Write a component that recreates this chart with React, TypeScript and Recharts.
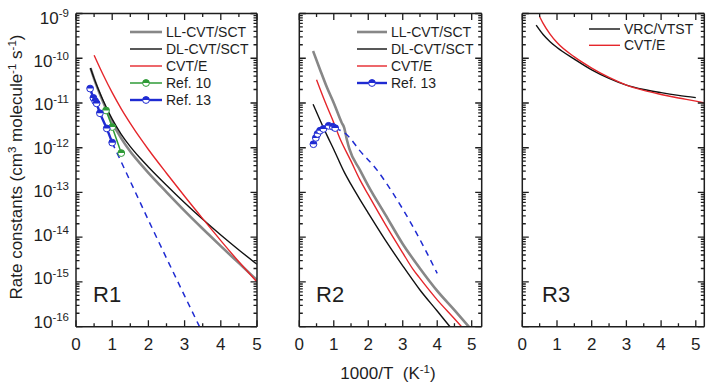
import React from 'react';
import { LineChart, Line, XAxis, YAxis, Legend } from 'recharts';

type Pt = { x: number; y: number };

const FONT = '"Liberation Sans", Arial, Helvetica, sans-serif';
const INK = '#1e1e1e';
const GRAY = '#878787';
const BLACK = '#111111';
const RED = '#e5262b';
const GREEN = '#2f9b37';
const BLUE = '#1f2bd2';

// x = 1000/T (K^-1), k in cm3 molecule-1 s-1

// R1
const r1LLx = [0.4, 0.5, 0.6, 0.75, 1.0, 1.25, 1.5, 1.77, 2.0, 2.5, 3.0, 3.5, 4.0, 4.5, 5.0];
const r1LLk = [6.03e-11, 3.47e-11, 2.09e-11, 1.05e-11, 3.72e-12, 1.62e-12, 8.22e-13, 4.47e-13, 2.75e-13, 1.02e-13, 3.89e-14, 1.55e-14, 6.31e-15, 2.63e-15, 1.1e-15];
const r1DLx = [0.4, 0.5, 0.6, 0.75, 1.0, 1.25, 1.5, 1.77, 2.0, 2.5, 3.0, 3.5, 4.0, 4.5, 5.0];
const r1DLk = [6.03e-11, 3.55e-11, 2.19e-11, 1.14e-11, 4.37e-12, 2.0e-12, 1.06e-12, 5.89e-13, 3.72e-13, 1.45e-13, 5.89e-14, 2.51e-14, 1.12e-14, 5.19e-15, 2.48e-15];
const r1CVTx = [0.5, 0.75, 1.0, 1.25, 1.5, 1.8, 2.0, 2.5, 3.0, 3.5, 4.0, 4.5, 5.0];
const r1CVTk = [1.17e-10, 4.27e-11, 1.7e-11, 7.41e-12, 3.51e-12, 1.53e-12, 9.12e-13, 2.69e-13, 8.22e-14, 2.6e-14, 8.41e-15, 2.82e-15, 1.0e-15];
const r1Ref10x = [0.83, 1.0, 1.25];
const r1Ref10k = [6.8e-12, 2.9e-12, 7.6e-13];
const r1Ref13x = [0.39, 0.48, 0.53, 0.57, 0.66, 0.85, 1.0];
const r1Ref13k = [2.1e-11, 1.3e-11, 1.1e-11, 9.8e-12, 5.9e-12, 2.7e-12, 1.3e-12];
const r1FitX = [1.0, 1.5, 2.0, 2.5, 3.0, 3.5];
const r1FitK = [1.3e-12, 1.78e-13, 2.4e-14, 3.4e-15, 4.9e-16, 7.1e-17];

// R2
const r2LLx = [0.4, 0.6, 0.8, 1.0, 1.23, 1.3, 1.38, 1.45, 1.76, 2.0, 2.5, 3.0, 3.5, 4.0, 4.5, 4.94];
const r2LLk = [1.45e-10, 5.62e-11, 2.24e-11, 1.0e-11, 3.63e-12, 2.82e-12, 1.51e-12, 9.55e-13, 3.16e-13, 1.41e-13, 3.16e-14, 7.08e-15, 2.0e-15, 6.31e-16, 2.34e-16, 9.55e-17];
const r2DLx = [0.4, 0.6, 0.8, 1.0, 1.3, 1.5, 1.76, 2.0, 2.5, 3.0, 3.5, 4.0, 4.36, 4.5];
const r2DLk = [9.33e-12, 4.17e-12, 1.91e-12, 9.12e-13, 2.88e-13, 1.51e-13, 6.92e-14, 3.47e-14, 8.51e-15, 2.29e-15, 6.61e-16, 2.24e-16, 1.02e-16, 7.6e-17];
const r2CVTx = [0.5, 0.75, 1.0, 1.16, 1.5, 1.76, 2.0, 2.5, 3.0, 3.3, 3.5, 4.0, 4.5, 4.8];
const r2CVTk = [3.31e-11, 1.05e-11, 3.63e-12, 1.74e-12, 5.01e-13, 1.91e-13, 8.91e-14, 1.91e-14, 4.47e-15, 1.91e-15, 1.2e-15, 3.98e-16, 1.51e-16, 8.3e-17];
const r2Ref13x = [0.41, 0.48, 0.53, 0.6, 0.7, 0.85, 0.97, 1.04];
const r2Ref13k = [1.2e-12, 1.66e-12, 2.04e-12, 2.4e-12, 2.63e-12, 3.09e-12, 2.95e-12, 2.75e-12];
const r2FitX = [1.04, 1.38, 1.76, 2.25, 2.72, 3.3, 4.0];
const r2FitK = [2.75e-12, 1.95e-12, 8.5e-13, 3.2e-13, 9.5e-14, 1.7e-14, 1.55e-15];

// R3
const r3VRCx = [0.4, 0.6, 0.8, 1.0, 1.5, 2.0, 2.5, 3.0, 3.5, 4.0, 4.5, 5.0];
const r3VRCk = [5.5e-10, 3.39e-10, 2.34e-10, 1.74e-10, 9.55e-11, 5.5e-11, 3.55e-11, 2.51e-11, 2.0e-11, 1.7e-11, 1.48e-11, 1.32e-11];
const r3CVTx = [0.5, 0.6, 0.8, 1.0, 1.5, 2.0, 2.5, 3.0, 3.5, 4.0, 4.5, 5.0, 5.25];
const r3CVTk = [8.51e-10, 6.03e-10, 3.47e-10, 2.24e-10, 1.07e-10, 6.03e-11, 3.72e-11, 2.51e-11, 1.91e-11, 1.55e-11, 1.29e-11, 1.1e-11, 1.0e-11];

// axis ticks
const xTicks = [0, 0.5, 1, 1.5, 2, 2.5, 3, 3.5, 4, 4.5, 5];
const exponents = [-16, -15, -14, -13, -12, -11, -10];
const mantissas = [1, 2, 3, 4, 5, 6, 7, 8, 9];
const yTicks = [...exponents.flatMap((e) => mantissas.map((m) => m * Math.pow(10, e))), 1e-9];
const Y_MIN = 1e-16;
const Y_MAX = 1e-9;

const TOP = 13.5;
const BOTTOM = 326.7;
const W = 709;
const H = 386;
const AX = 0.01; // axis band thickness (must be > 0 for the axis to draw)
const MAJ = 6.5;
const MIN = 3.5;

// frame of each panel: plot-area edges in px and the x-axis upper limit
const frames = [
  { left: 76, right: 257, xMax: 5 },
  { left: 299.3, right: 481.7, xMax: 5.29 },
  { left: 522.3, right: 704.3, xMax: 5.245 },
];

const zip = (xs: number[], ks: number[]): Pt[] => xs.map((x, i) => ({ x, y: ks[i] }));

const isDecade = (v: number) => {
  const l = Math.log10(v);
  return Math.abs(l - Math.round(l)) < 1e-6;
};

const halfDot = (color: string) => (p: any) => {
  const { cx, cy } = p;
  if (cx == null || cy == null) return <g key={`n${p.index}`} />;
  return (
    <g key={`${cx}-${cy}`}>
      <circle cx={cx} cy={cy} r={3.4} fill="#ffffff" stroke={color} strokeWidth={1} />
      <path d={`M${cx - 3.4},${cy} A3.4,3.4 0 0 1 ${cx + 3.4},${cy} Z`} fill={color} />
    </g>
  );
};

const bottomLabel = (p: any) => {
  const v = p.payload.value;
  if (!Number.isInteger(v)) return <g />;
  return (
    <text x={p.x} y={Number(p.y) + 23} textAnchor="middle" fontSize={17} fontFamily={FONT} fill={INK}>
      {v}
    </text>
  );
};

const leftLabel = (p: any) => {
  const v = p.payload.value;
  if (!isDecade(v)) return <g />;
  const e = Math.round(Math.log10(v));
  const base = Number(p.y) + 10 - 1.3 * (-9 - e);
  return (
    <text x={Number(p.x) - 7} y={base} textAnchor="end" fontSize={17} fontFamily={FONT} fill={INK}>
      10
      <tspan dy={-7} fontSize={11.5}>{e}</tspan>
    </text>
  );
};

// inward tick marks on all four sides of every frame, one path per frame
const TickMarks = () => {
  const span = Math.log10(Y_MAX) - Math.log10(Y_MIN);
  const yPx = (v: number) => TOP + ((BOTTOM - TOP) * (Math.log10(Y_MAX) - Math.log10(v))) / span;
  return (
    <svg
      width={W}
      height={H}
      style={{ position: 'absolute', left: 0, top: 0, pointerEvents: 'none', overflow: 'visible' }}
    >
      {frames.map((f) => {
        const xPx = (v: number) => f.left + ((f.right - f.left) * v) / f.xMax;
        let d = '';
        xTicks.forEach((v) => {
          const len = Number.isInteger(v) ? MAJ : MIN;
          const x = xPx(v);
          d += `M${x},${BOTTOM}V${BOTTOM - len}M${x},${TOP}V${TOP + len}`;
        });
        yTicks.forEach((v) => {
          const len = isDecade(v) ? MAJ : MIN;
          const y = yPx(v);
          d += `M${f.left},${y}H${f.left + len}M${f.right},${y}H${f.right - len}`;
        });
        return <path key={f.left} d={d} stroke={INK} strokeWidth={1.3} fill="none" />;
      })}
    </svg>
  );
};

type LegendItem = { name: string; color: string; width: number; dot?: boolean };

const LegendBox = ({ items, step, lineW }: { items: LegendItem[]; step: number; lineW: number }) => (
  <svg width={150} height={items.length * step + 8} style={{ overflow: 'visible', display: 'block' }}>
    {items.map((it, i) => {
      const cy = 8 + i * step;
      return (
        <g key={it.name}>
          <line x1={0} x2={lineW} y1={cy} y2={cy} stroke={it.color} strokeWidth={it.width} />
          {it.dot && halfDot(it.color)({ cx: lineW / 2, cy, index: i })}
          <text x={lineW + 4} y={cy + 5} fontSize={14} fontFamily={FONT} fill={INK}>
            {it.name}
          </text>
        </g>
      );
    })}
  </svg>
);

const panelLabel = (name: string, x: number) => () => (
  <text x={x} y={302} fontSize={22} fontFamily={FONT} fill={INK}>
    {name}
  </text>
);

const yTitle = () => (
  <text transform="translate(22,167) rotate(-90)" textAnchor="middle" fontSize={17} fontFamily={FONT} fill={INK}>
    Rate constants (cm
    <tspan dy={-6} fontSize={11.5}>3</tspan>
    <tspan dy={6}> molecule</tspan>
    <tspan dy={-6} fontSize={11.5}>-1</tspan>
    <tspan dy={6}> s</tspan>
    <tspan dy={-6} fontSize={11.5}>-1</tspan>
    <tspan dy={6}>)</tspan>
  </text>
);

const xTitle = () => (
  <text x={388} y={379} textAnchor="middle" fontSize={17} fontFamily={FONT} fill={INK}>
    1000/T{'\u00a0\u00a0'}(K
    <tspan dy={-6} fontSize={11.5}>-1</tspan>
    <tspan dy={6}>)</tspan>
  </text>
);

const lineStyle = { stroke: INK, strokeWidth: 1.5 };

const axes = (xMax: number, opts: { yLabels: boolean; tag: any; title?: any; ytitle?: any }) => [
  <XAxis
    key="xb"
    xAxisId="b"
    dataKey="x"
    type="number"
    domain={[0, xMax]}
    ticks={xTicks}
    interval={0}
    allowDataOverflow
    height={AX}
    tickSize={0}
    tickMargin={0}
    tickLine={false}
    axisLine={lineStyle}
    tick={bottomLabel}
    label={opts.title}
  />,
  <XAxis
    key="xt"
    xAxisId="t"
    orientation="top"
    type="number"
    domain={[0, xMax]}
    ticks={xTicks}
    allowDataOverflow
    height={AX}
    tickLine={false}
    axisLine={lineStyle}
    tick={false}
    label={opts.tag}
  />,
  <YAxis
    key="yl"
    yAxisId="l"
    scale="log"
    type="number"
    domain={[Y_MIN, Y_MAX]}
    ticks={yTicks}
    interval={0}
    allowDataOverflow
    width={AX}
    tickSize={0}
    tickMargin={0}
    tickLine={false}
    axisLine={lineStyle}
    tick={opts.yLabels ? leftLabel : false}
    label={opts.ytitle}
  />,
  <YAxis
    key="yr"
    yAxisId="r"
    orientation="right"
    scale="log"
    type="number"
    domain={[Y_MIN, Y_MAX]}
    ticks={yTicks}
    allowDataOverflow
    width={AX}
    tickLine={false}
    axisLine={lineStyle}
    tick={false}
  />,
];

const margin = (i: number) => ({
  top: TOP - AX,
  bottom: H - BOTTOM - AX,
  left: frames[i].left - AX,
  right: W - frames[i].right - AX,
});

const curve = (key: string, data: Pt[], color: string, width: number, extra: any = {}) => (
  <Line
    key={key}
    xAxisId="b"
    yAxisId="l"
    data={data}
    dataKey="y"
    type="monotone"
    stroke={color}
    strokeWidth={width}
    dot={false}
    activeDot={false}
    isAnimationActive={false}
    {...extra}
  />
);

const legend = (items: LegendItem[], left: number, top: number, step: number, lineW: number) => (
  <Legend
    layout="vertical"
    align="center"
    verticalAlign="middle"
    wrapperStyle={{ left, top, width: 150 }}
    content={() => <LegendBox items={items} step={step} lineW={lineW} />}
  />
);

const PanelR1 = () => (
  <LineChart width={W} height={H} margin={margin(0)}>
    {axes(frames[0].xMax, { yLabels: true, tag: panelLabel('R1', 93), ytitle: yTitle })}
    {curve('ll', zip(r1LLx, r1LLk), GRAY, 2.6)}
    {curve('dl', zip(r1DLx, r1DLk), BLACK, 1.4)}
    {curve('cvt', zip(r1CVTx, r1CVTk), RED, 1.4)}
    {curve('fit13', zip(r1FitX, r1FitK), BLUE, 1.5, { strokeDasharray: '6 5', type: 'linear' })}
    {curve('ref10', zip(r1Ref10x, r1Ref10k), GREEN, 1.5, { type: 'linear', dot: halfDot(GREEN) })}
    {curve('ref13', zip(r1Ref13x, r1Ref13k), BLUE, 2.4, { type: 'linear', dot: halfDot(BLUE) })}
    {legend(
      [
        { name: 'LL-CVT/SCT', color: GRAY, width: 2.6 },
        { name: 'DL-CVT/SCT', color: BLACK, width: 1.4 },
        { name: 'CVT/E', color: RED, width: 1.4 },
        { name: 'Ref. 10', color: GREEN, width: 1.5, dot: true },
        { name: 'Ref. 13', color: BLUE, width: 2.4, dot: true },
      ],
      130,
      24.3,
      17,
      32,
    )}
  </LineChart>
);

const PanelR2 = () => (
  <LineChart width={W} height={H} margin={margin(1)}>
    {axes(frames[1].xMax, { yLabels: false, tag: panelLabel('R2', 316), title: xTitle })}
    {curve('ll', zip(r2LLx, r2LLk), GRAY, 2.6)}
    {curve('dl', zip(r2DLx, r2DLk), BLACK, 1.4)}
    {curve('cvt', zip(r2CVTx, r2CVTk), RED, 1.4)}
    {curve('fit13', zip(r2FitX, r2FitK), BLUE, 1.5, { strokeDasharray: '6 5' })}
    {curve('ref13', zip(r2Ref13x, r2Ref13k), BLUE, 2.4, { dot: halfDot(BLUE) })}
    {legend(
      [
        { name: 'LL-CVT/SCT', color: GRAY, width: 2.6 },
        { name: 'DL-CVT/SCT', color: BLACK, width: 1.4 },
        { name: 'CVT/E', color: RED, width: 1.4 },
        { name: 'Ref. 13', color: BLUE, width: 2.4, dot: true },
      ],
      357,
      24,
      17,
      30,
    )}
  </LineChart>
);

const PanelR3 = () => (
  <LineChart width={W} height={H} margin={margin(2)}>
    {axes(frames[2].xMax, { yLabels: false, tag: panelLabel('R3', 542) })}
    {curve('vrc', zip(r3VRCx, r3VRCk), BLACK, 1.4)}
    {curve('cvt', zip(r3CVTx, r3CVTk), RED, 1.4)}
    {legend(
      [
        { name: 'VRC/VTST', color: BLACK, width: 1.4 },
        { name: 'CVT/E', color: RED, width: 1.4 },
      ],
      589,
      21.3,
      16.3,
      31,
    )}
  </LineChart>
);

const layer: React.CSSProperties = { position: 'absolute', left: 0, top: 0 };

export default function App() {
  return (
    <div style={{ position: 'absolute', left: 0, top: 0, width: W, height: H, background: '#ffffff' }}>
      <div style={layer}>
        <PanelR1 />
      </div>
      <div style={layer}>
        <PanelR2 />
      </div>
      <div style={layer}>
        <PanelR3 />
      </div>
      <TickMarks />
    </div>
  );
}
